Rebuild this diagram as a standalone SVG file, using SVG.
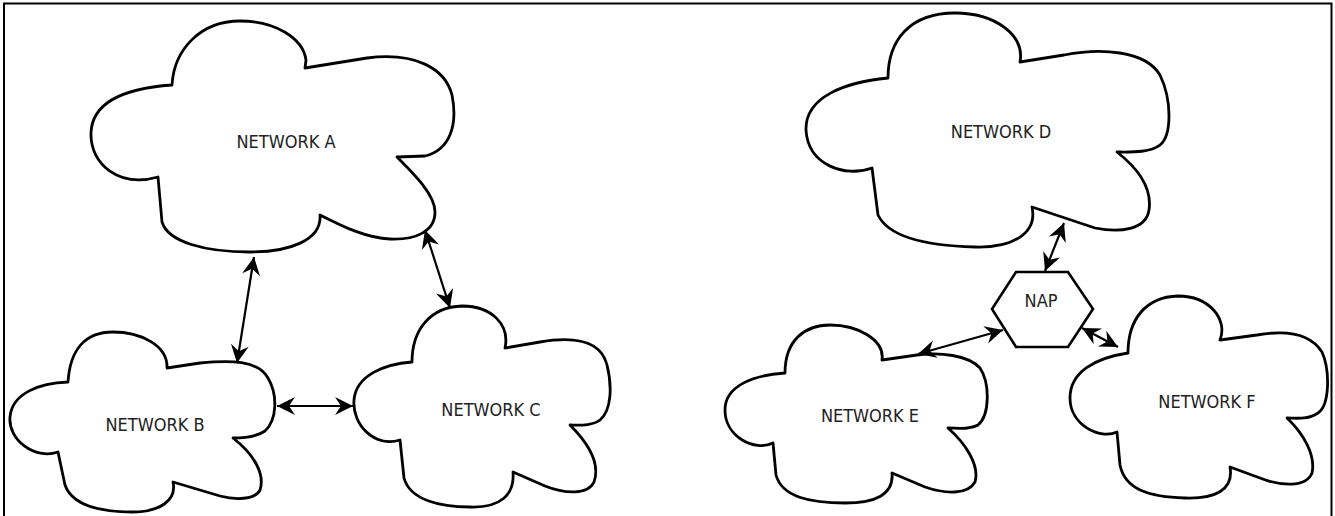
<svg xmlns="http://www.w3.org/2000/svg" width="1335" height="516" viewBox="0 0 1335 516">
<style>
.cloud{fill:#fff;stroke:#000;stroke-width:2.8;stroke-linejoin:round}
.hex{fill:#fff;stroke:#000;stroke-width:2.6;stroke-linejoin:miter}
.lbl{font-family:'DejaVu Sans Condensed','DejaVu Sans',sans-serif;font-stretch:condensed;font-size:18px;fill:#222;text-anchor:middle}
.conn{stroke:#000;stroke-width:2.2;fill:none;marker-start:url(#ah);marker-end:url(#ah)}
.frame{fill:none;stroke:#000;stroke-width:2}
</style>
<defs>
<marker id="ah" viewBox="-22 -11 23 22" refX="0" refY="0" markerWidth="23" markerHeight="22" markerUnits="userSpaceOnUse" orient="auto-start-reverse">
<path d="M0,0 L-18,-9 L-12,0 L-18,9 Z" fill="#000"/>
</marker>
</defs>
<rect width="1335" height="516" fill="#fff"/>
<path class="frame" d="M4,517 V3.5 H1331.5 V517"/>

<g id="network-a">
<path class="cloud" d="M172,85 C174,50 200,21 240,21 C275,21 303,38 306,60 L305,68 L367,58 C415,52 445,68 452,95 C458,125 450,150 425,156 L397,157 C415,175 435,195 435,212 C435,232 415,240 390,239 C365,238 340,225 320,215 C322,240 290,252 250,252 C205,252 168,242 162,222 L158,177 C120,188 90,165 91,133 C92,100 130,88 172,85 Z"/>
<text class="lbl" x="286" y="148">NETWORK A</text>
</g>

<g id="network-b">
<path class="cloud" d="M68,382 C70,350 85,332 113,332 C140,332 168,345 167,368 L200,363 C230,360 258,360 268,378 C278,395 277,420 265,431 C255,438 240,438 233,438 C255,455 265,475 260,490 C255,500 235,500 220,496 L173,482 C177,500 160,512 133,512 C100,512 72,505 65,485 L58,452 C35,460 8,440 10,417 C12,393 40,383 68,382 Z"/>
<text class="lbl" x="155" y="431">NETWORK B</text>
</g>

<g id="network-c">
<path class="cloud" d="M412,362 C412,330 430,307 462,306 C492,306 510,325 505,348 L540,342 C570,337 600,338 607,365 C612,385 612,410 600,420 C592,426 580,425 570,425 C590,445 600,465 594,482 C588,495 565,494 545,486 L513,472 C515,495 500,508 470,507 C440,507 410,500 404,478 L400,440 C375,448 352,425 354,400 C356,375 385,364 412,362 Z"/>
<text class="lbl" x="491" y="416">NETWORK C</text>
</g>

<g id="network-d">
<path class="cloud" d="M888,78 C888,40 910,13 955,13 C995,13 1025,35 1020,62 L1064,55 C1100,48 1145,50 1160,75 C1172,100 1172,135 1160,145 C1150,153 1130,152 1117,152 C1140,170 1152,190 1149,210 C1146,230 1120,233 1095,228 L1032,207 C1038,235 1010,248 975,247 C935,246 890,240 878,215 L872,168 C845,178 808,165 806,130 C805,97 845,82 888,78 Z"/>
<text class="lbl" x="1001" y="138">NETWORK D</text>
</g>

<g id="nap">
<polygon class="hex" points="1016,272 1068,272 1093,309 1068,347 1016,347 992,309"/>
<text class="lbl" x="1041" y="307">NAP</text>
</g>

<g id="network-e">
<path class="cloud" d="M785,373 C785,340 805,325 830,325 C858,325 885,340 882,360 L917,355 C940,352 968,355 980,368 C990,383 990,415 978,425 C970,430 958,428 948,428 C965,443 980,465 975,482 C968,495 945,494 925,487 L892,473 C894,495 875,503 845,503 C810,503 782,497 776,475 L773,443 C755,452 725,437 725,410 C725,385 755,375 785,373 Z"/>
<text class="lbl" x="870" y="422">NETWORK E</text>
</g>

<g id="network-f">
<path class="cloud" d="M1128,353 C1128,320 1145,297 1178,296 C1210,296 1228,320 1220,340 L1257,335 C1285,330 1310,333 1322,352 C1330,370 1330,405 1318,413 C1308,420 1295,418 1287,418 C1303,433 1316,455 1312,473 C1306,488 1280,486 1260,478 L1230,467 C1234,490 1215,499 1185,498 C1150,497 1125,490 1120,465 L1117,432 C1100,440 1070,425 1070,398 C1070,372 1095,358 1128,353 Z"/>
<text class="lbl" x="1207" y="408">NETWORK F</text>
</g>

<g id="connectors">
<line class="conn" x1="254" y1="257" x2="237" y2="363"/>
<line class="conn" x1="425" y1="230" x2="450" y2="308"/>
<line class="conn" x1="277" y1="406" x2="353" y2="406"/>
<line class="conn" x1="1064" y1="223" x2="1045" y2="271"/>
<line class="conn" x1="918" y1="354" x2="1003" y2="330"/>
<line class="conn" x1="1082" y1="328" x2="1118" y2="347"/>
</g>
</svg>
